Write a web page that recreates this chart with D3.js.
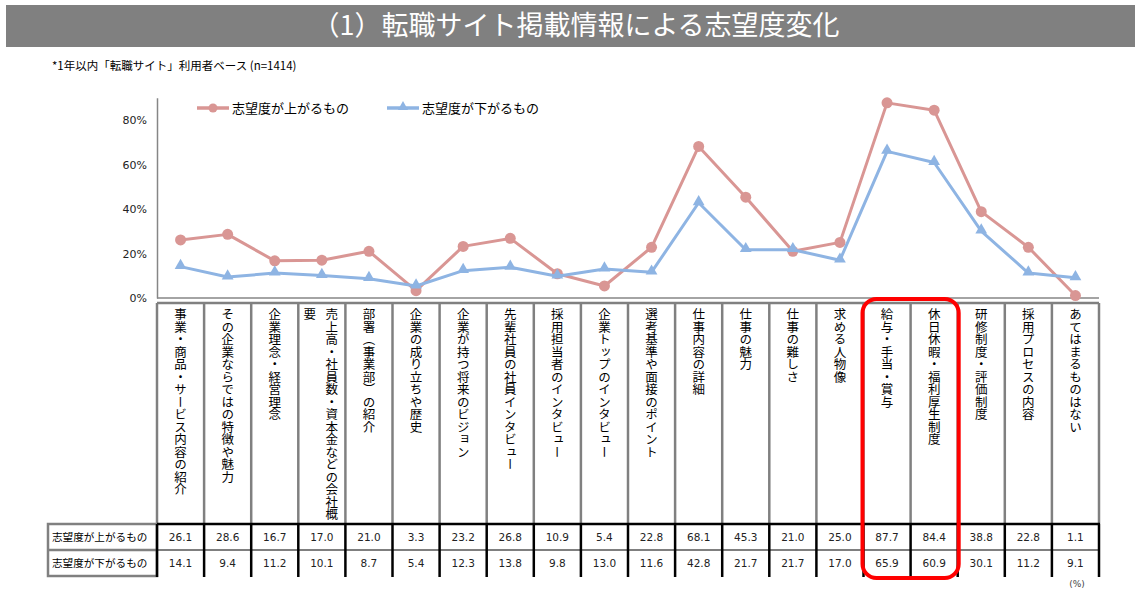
<!DOCTYPE html>
<html>
<head>
<meta charset="utf-8">
<script src="https://cdn.jsdelivr.net/npm/d3@7"></script>
<style>
  body { margin: 0; background: #fff; }
  svg { display: block; }
</style>
</head>
<body>
<div id="chart"></div>
<script>
'use strict';

// Data
var title = '（1）転職サイト掲載情報による志望度変化'
var subtitle = '*1年以内「転職サイト」利用者ベース (n=1414)'
var seriesNames = ['志望度が上がるもの', '志望度が下がるもの']
var categories = [
  '事業・商品・サービス内容の紹介',
  'その企業ならではの特徴や魅力',
  '企業理念・経営理念',
  '売上高・社員数・資本金などの会社概要',
  '部署（事業部）の紹介',
  '企業の成り立ちや歴史',
  '企業が持つ将来のビジョン',
  '先輩社員の社員インタビュー',
  '採用担当者のインタビュー',
  '企業トップのインタビュー',
  '選考基準や面接のポイント',
  '仕事内容の詳細',
  '仕事の魅力',
  '仕事の難しさ',
  '求める人物像',
  '給与・手当・賞与',
  '休日休暇・福利厚生制度',
  '研修制度・評価制度',
  '採用プロセスの内容',
  'あてはまるものはない'
]
var upValues = [26.1, 28.6, 16.7, 17.0, 21.0, 3.3, 23.2, 26.8, 10.9, 5.4, 22.8, 68.1, 45.3, 21.0, 25.0, 87.7, 84.4, 38.8, 22.8, 1.1]
var downValues = [14.1, 9.4, 11.2, 10.1, 8.7, 5.4, 12.3, 13.8, 9.8, 13.0, 11.6, 42.8, 21.7, 21.7, 17.0, 65.9, 60.9, 30.1, 11.2, 9.1]
var yTicks = [0, 20, 40, 60, 80]
var highlighted = ['給与・手当・賞与', '休日休暇・福利厚生制度']

var W = 1147, H = 589
var colors = {up: '#d99694', down: '#8eb4e3'}
var jp = '"Noto Sans CJK JP", sans-serif'
var num = '"DejaVu Sans", Verdana, sans-serif'

var svg = d3.select('#chart').append('svg')
  .attr('width', W)
  .attr('height', H)

// Title bar
svg.append('rect')
  .attr('x', 6).attr('y', 5)
  .attr('width', 1129).attr('height', 42)
  .attr('fill', '#808080')

svg.append('text')
  .attr('x', 576).attr('y', 26)
  .attr('dy', '0.35em')
  .style('font', '27px ' + jp)
  .style('fill', '#fff')
  .style('text-anchor', 'middle')
  .text(title)

svg.append('text')
  .attr('x', 52).attr('y', 66)
  .attr('dy', '0.35em')
  .style('font', '11.5px ' + jp)
  .style('fill', '#000')
  .text(subtitle)

// Scales
var x = d3.scaleBand()
  .domain(categories)
  .range([157, 1099])
  .padding(0)
var bw = x.bandwidth()
var cx = function(c) { return x(c) + bw / 2 }

var y = d3.scaleLinear()
  .domain([0, 90])
  .range([298, 97.75])

// Axes
var yAxis = svg.append('g')
  .attr('transform', 'translate(157,0)')
  .call(d3.axisLeft(y).tickValues(yTicks).tickSize(0).tickPadding(10)
    .tickFormat(function(d) { return d + '%' }))
yAxis.select('.domain').attr('stroke', '#868686').attr('stroke-width', 1.5)
yAxis.selectAll('text')
  .style('font', '11px ' + num)
  .style('fill', '#222')

svg.append('line')
  .attr('x1', 157).attr('x2', 1099)
  .attr('y1', y(0)).attr('y2', y(0))
  .attr('stroke', '#868686')
  .attr('stroke-width', 1.5)

// Lines
var series = [
  {key: 'up', name: seriesNames[0], values: upValues},
  {key: 'down', name: seriesNames[1], values: downValues}
]

var line = d3.line()
  .x(function(d, i) { return cx(categories[i]) })
  .y(function(d) { return y(d) })

var triangle = d3.symbol().type(d3.symbolTriangle).size(60)

series.forEach(function(s) {
  var g = svg.append('g').attr('class', 'series-' + s.key)
  g.append('path')
    .attr('d', line(s.values))
    .style('fill', 'none')
    .style('stroke', colors[s.key])
    .style('stroke-width', 3)
    .style('stroke-linejoin', 'round')
  if (s.key == 'up') {
    g.selectAll('circle')
      .data(s.values)
      .enter().append('circle')
        .attr('cx', function(d, i) { return cx(categories[i]) })
        .attr('cy', function(d) { return y(d) })
        .attr('r', 5.5)
        .style('fill', colors[s.key])
  } else {
    g.selectAll('path.marker')
      .data(s.values)
      .enter().append('path')
        .attr('class', 'marker')
        .attr('d', triangle)
        .attr('transform', function(d, i) { return 'translate(' + cx(categories[i]) + ',' + (y(d) - 1) + ')' })
        .style('fill', colors[s.key])
  }
})

// Legend
var legend = svg.append('g')
var legendX = [197, 387]
series.forEach(function(s, i) {
  var lg = legend.append('g').attr('transform', 'translate(' + legendX[i] + ',108)')
  lg.append('line')
    .attr('x1', 0).attr('x2', 32)
    .style('stroke', colors[s.key])
    .style('stroke-width', 3.5)
  if (s.key == 'up') {
    lg.append('circle').attr('cx', 16).attr('r', 4.5).style('fill', colors[s.key])
  } else {
    lg.append('path')
      .attr('d', d3.symbol().type(d3.symbolTriangle).size(45))
      .attr('transform', 'translate(16,-1)')
      .style('fill', colors[s.key])
  }
  lg.append('text')
    .attr('x', 35)
    .attr('dy', '0.36em')
    .style('font', '13px ' + jp)
    .style('fill', '#000')
    .text(s.name)
})

// Table: category header
var headTop = 303, headBottom = 524, row1 = 550, row2 = 577

var table = svg.append('g')

table.append('line')
  .attr('x1', 157).attr('x2', 1099)
  .attr('y1', headTop).attr('y2', headTop)
  .attr('stroke', '#808080').attr('stroke-width', 2.5)

var bounds = categories.map(function(c) { return x(c) }).concat([x.range()[1]])

table.selectAll('.vhead')
  .data(bounds)
  .enter().append('line')
    .attr('class', 'vhead')
    .attr('x1', function(d) { return d }).attr('x2', function(d) { return d })
    .attr('y1', headTop).attr('y2', headBottom)
    .attr('stroke', '#808080').attr('stroke-width', 2.5)

categories.forEach(function(c) {
  // long label wraps into a second vertical line on the left
  var parts = [c]
  if (c.length > 17) parts = [c.slice(0, 17), c.slice(17)]
  parts.forEach(function(p, j) {
    var off = parts.length > 1 ? (j == 0 ? 10 : -12) : 0
    table.append('text')
      .attr('x', cx(c) + off)
      .attr('y', 308)
      .style('writing-mode', 'vertical-rl')
      .style('text-orientation', 'mixed')
      .style('font', '12.5px ' + jp)
      .style('fill', '#000')
      .text(p)
  })
})

// Table: row headers
table.append('rect')
  .attr('x', 48).attr('y', headBottom)
  .attr('width', 109).attr('height', row2 - 1 - headBottom)
  .attr('fill', 'none')
  .attr('stroke', '#808080').attr('stroke-width', 2.5)
table.append('line')
  .attr('x1', 48).attr('x2', 157)
  .attr('y1', row1).attr('y2', row1)
  .attr('stroke', '#808080').attr('stroke-width', 2.5)

seriesNames.forEach(function(n, i) {
  table.append('text')
    .attr('x', 52)
    .attr('y', i == 0 ? (headBottom + row1) / 2 : (row1 + row2) / 2)
    .attr('dy', '0.36em')
    .style('font', '10.6px ' + jp)
    .style('fill', '#000')
    .text(n)
})

// Table: value cells
table.selectAll('.vdata')
  .data(bounds)
  .enter().append('line')
    .attr('class', 'vdata')
    .attr('x1', function(d) { return d }).attr('x2', function(d) { return d })
    .attr('y1', headBottom).attr('y2', row2)
    .attr('stroke', '#000').attr('stroke-width', 2.5)

table.append('line')
  .attr('x1', 157).attr('x2', 1100)
  .attr('y1', headBottom).attr('y2', headBottom)
  .attr('stroke', '#000').attr('stroke-width', 2.5)
table.append('line')
  .attr('x1', 157).attr('x2', 1100)
  .attr('y1', row1).attr('y2', row1)
  .attr('stroke', '#000').attr('stroke-width', 1.2)

series.forEach(function(s, i) {
  var ry = i == 0 ? (headBottom + row1) / 2 : (row1 + row2) / 2
  table.selectAll('.val-' + s.key)
    .data(s.values)
    .enter().append('text')
      .attr('class', 'val-' + s.key)
      .attr('x', function(d, k) { return cx(categories[k]) })
      .attr('y', ry)
      .attr('dy', '0.36em')
      .style('font', '10.5px ' + num)
      .style('fill', '#222')
      .style('text-anchor', 'middle')
      .text(function(d) { return d.toFixed(1) })
})

// Highlight box
var hx0 = x(highlighted[0]) - 1
var hx1 = x(highlighted[1]) + bw + 1
svg.append('rect')
  .attr('x', hx0).attr('y', 299)
  .attr('width', hx1 - hx0).attr('height', 279)
  .attr('rx', 14)
  .attr('fill', 'none')
  .attr('stroke', '#ff0000')
  .attr('stroke-width', 4)

svg.append('text')
  .attr('x', 1077).attr('y', 587)
  .style('font', '9px ' + num)
  .style('fill', '#444')
  .style('text-anchor', 'middle')
  .text('(%)')
</script>
</body>
</html>
